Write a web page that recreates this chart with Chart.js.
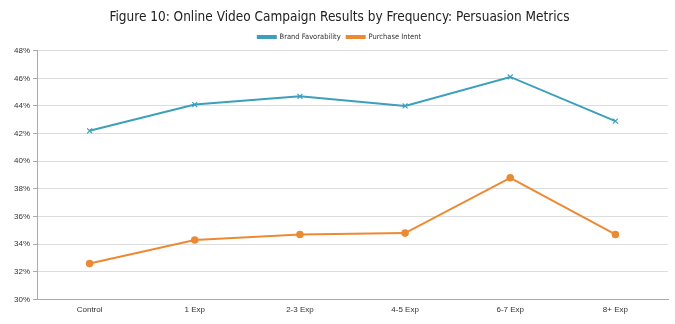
<!DOCTYPE html>
<html>
<head>
<meta charset="utf-8">
<script src="https://cdn.jsdelivr.net/npm/chart.js@4"></script>
<style>
  html, body { margin: 0; padding: 0; background: #fff; }
  #wrap { width: 675px; height: 324px; position: relative; }
</style>
</head>
<body>
<div id="wrap"><canvas id="chart"></canvas></div>
<script>
const categories = ["Control", "1 Exp", "2-3 Exp", "4-5 Exp", "6-7 Exp", "8+ Exp"];
const brandFavorability = [42.2, 44.1, 44.7, 44.0, 46.1, 42.9];
const purchaseIntent = [32.6, 34.3, 34.7, 34.8, 38.8, 34.7];
const yTicks = [30, 32, 34, 36, 38, 40, 42, 44, 46, 48];

document.addEventListener("DOMContentLoaded", () => {
    const ctx = document.getElementById("chart").getContext("2d");
    new Chart(ctx, {
        type: "line",
        data: {
            labels: categories,
            datasets: [
                {
                    label: "Brand Favorability",
                    data: brandFavorability,
                    borderColor: "#3b9fbd",
                    backgroundColor: "#3b9fbd",
                    borderWidth: 2,
                    pointStyle: "crossRot",
                    pointRadius: 3.5,
                    pointBorderWidth: 1.2,
                    tension: 0
                },
                {
                    label: "Purchase Intent",
                    data: purchaseIntent,
                    borderColor: "#ec8a34",
                    backgroundColor: "#ec8a34",
                    borderWidth: 2,
                    pointStyle: "circle",
                    pointRadius: 2.8,
                    tension: 0
                }
            ]
        },
        options: {
            responsive: true,
            maintainAspectRatio: false,
            animation: false,
            layout: { padding: { left: 11, right: 7, top: 0, bottom: 3 } },
            scales: {
                x: {
                    offset: true,
                    grid: { display: false, drawTicks: false },
                    border: { color: "#aaa" },
                    ticks: { color: "#333", font: { family: "Liberation Sans", size: 8 }, padding: 6 }
                },
                y: {
                    min: 30,
                    max: 48,
                    afterBuildTicks: (axis) => { axis.ticks = yTicks.map(v => ({ value: v })); },
                    grid: { color: "#ddd", tickLength: 4, tickColor: "#aaa" },
                    border: { color: "#aaa" },
                    ticks: {
                        color: "#333",
                        font: { family: "Liberation Sans", size: 8 },
                        padding: 3,
                        callback: (v) => v + "%"
                    }
                }
            },
            plugins: {
                title: {
                    display: true,
                    text: "Figure 10: Online Video Campaign Results by Frequency: Persuasion Metrics",
                    color: "#222",
                    font: { family: "DejaVu Sans Condensed", size: 13.5, weight: "normal" },
                    padding: { top: 9, bottom: 2 }
                },
                legend: {
                    display: true,
                    position: "top",
                    labels: {
                        color: "#333",
                        font: { family: "DejaVu Sans Condensed", size: 7.5 },
                        boxWidth: 18,
                        boxHeight: 2,
                        padding: 6
                    }
                },
                tooltip: { enabled: false }
            }
        }
    });
});
</script>
</body>
</html>
